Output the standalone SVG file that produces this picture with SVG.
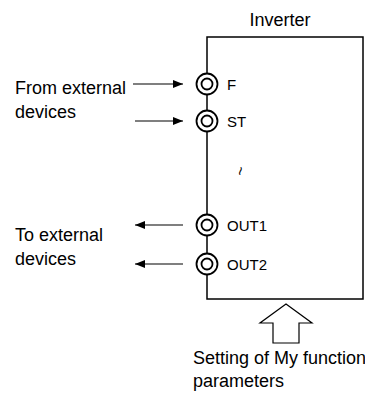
<svg xmlns="http://www.w3.org/2000/svg" width="365" height="396" viewBox="0 0 365 396">
<defs>
<marker id="ah" viewBox="0 0 10 8" refX="10" refY="4" markerWidth="10" markerHeight="8" markerUnits="userSpaceOnUse" orient="auto">
<path d="M0,0 L10,4 L0,8 Z" fill="#000"/>
</marker>
<style>
text{font-family:"Liberation Sans",Arial,sans-serif;fill:#000}
.t{font-size:18px}
.l{font-size:15px}
.ln{stroke:#000;stroke-width:1.2;fill:none}
.box{stroke:#000;stroke-width:1.5;fill:none}
.o{stroke:#000;stroke-width:1.8;fill:#fff}
.i{stroke:#000;stroke-width:1.8;fill:none}
</style>
</defs>
<g id="inverter">
<rect class="box" x="207" y="37" width="156" height="262"/>
<text class="t" x="280" y="26" text-anchor="middle">Inverter</text>
<text x="240" y="176" font-size="16" transform="rotate(100 240 171)" text-anchor="middle">~</text>
</g>
<g id="term-F">
<circle class="o" cx="207" cy="84" r="10.5"/><circle class="i" cx="207" cy="84" r="5.5"/>
<text class="l" x="227" y="90">F</text>
</g>
<g id="term-ST">
<circle class="o" cx="207" cy="121" r="10.5"/><circle class="i" cx="207" cy="121" r="5.5"/>
<text class="l" x="227" y="127">ST</text>
</g>
<g id="term-OUT1">
<circle class="o" cx="207" cy="225" r="10.5"/><circle class="i" cx="207" cy="225" r="5.5"/>
<text class="l" x="227" y="231">OUT1</text>
</g>
<g id="term-OUT2">
<circle class="o" cx="207" cy="264" r="10.5"/><circle class="i" cx="207" cy="264" r="5.5"/>
<text class="l" x="227" y="270">OUT2</text>
</g>
<g id="from-ext">
<text class="t" x="15" y="94">From external</text>
<text class="t" x="15" y="118">devices</text>
</g>
<g id="to-ext">
<text class="t" x="15" y="241">To external</text>
<text class="t" x="15" y="265">devices</text>
</g>
<g id="setting">
<path class="ln" d="M286,304 L312,323 L299,323 L299,343 L273,343 L273,323 L260,323 Z"/>
<text class="t" x="193" y="364">Setting of My function</text>
<text class="t" x="193" y="387">parameters</text>
</g>
<g id="connectors">
<line class="ln" x1="133" y1="84" x2="183" y2="84" marker-end="url(#ah)"/>
<line class="ln" x1="135" y1="121" x2="183" y2="121" marker-end="url(#ah)"/>
<line class="ln" x1="183" y1="225" x2="135" y2="225" marker-end="url(#ah)"/>
<line class="ln" x1="183" y1="264" x2="135" y2="264" marker-end="url(#ah)"/>
</g>
</svg>
